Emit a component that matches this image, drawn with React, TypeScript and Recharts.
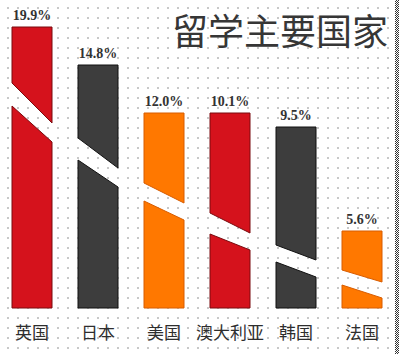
import React from 'react';
import { BarChart, Bar, XAxis, YAxis, LabelList } from 'recharts';

const countries = ['英国', '日本', '美国', '澳大利亚', '韩国', '法国'];
const shares = [19.9, 14.8, 12.0, 10.1, 9.5, 5.6];
// bar lengths as drawn in the infographic (chart units)
const barLengths = [281, 243, 195, 195, 181, 77];
// white diagonal band crossing each bar (chart units, at bar's left / right edge)
const gapTopLeft = [225, 170, 125, 95, 63, 38];
const gapTopRight = [185, 140, 105, 75, 48, 26];
const gapBottomLeft = [202, 148, 107, 74, 46, 23];
const gapBottomRight = [166, 121, 88, 58, 31, 10];
const titleText = '留学主要国家';

const data = countries.map((c, i) => ({
  country: c,
  share: shares[i],
  len: barLengths[i],
  gTL: gapTopLeft[i],
  gTR: gapTopRight[i],
  gBL: gapBottomLeft[i],
  gBR: gapBottomRight[i],
}));

const FILLS = ['#d5121c', '#3d3d3d', '#ff7800'];
const STROKES = ['#7a0a0e', '#111111', '#d85c00'];

const SplitBar = (props: any) => {
  const { x, y, width, height, payload } = props;
  if (!payload || !height) return null;
  const idx = countries.indexOf(payload.country);
  const fill = FILLS[idx % 3];
  const stroke = STROKES[idx % 3];
  const bottom = y + height;
  const k = height / payload.len;
  const Y = (v: number) => bottom - v * k;
  const r = x + width;
  return (
    <g>
      <polygon
        points={`${x},${y} ${r},${y} ${r},${Y(payload.gTR)} ${x},${Y(payload.gTL)}`}
        fill={fill}
        stroke={stroke}
        strokeWidth={1}
      />
      <polygon
        points={`${x},${Y(payload.gBL)} ${r},${Y(payload.gBR)} ${r},${bottom} ${x},${bottom}`}
        fill={fill}
        stroke={stroke}
        strokeWidth={1}
      />
    </g>
  );
};

const Tick = (props: any) => {
  const { x, y, payload } = props;
  return (
    <text
      x={x}
      y={y}
      dy={23}
      textAnchor="middle"
      fontFamily="'Noto Sans CJK SC', sans-serif"
      fontSize={17}
      fill="#2e2e2e"
    >
      {payload.value}
    </text>
  );
};

export default function App() {
  return (
    <div
      style={{
        position: 'absolute',
        left: 0,
        top: 0,
        width: 400,
        height: 354,
        backgroundColor: '#ffffff',
        backgroundImage: 'radial-gradient(circle, #c8c8c8 0.9px, rgba(255,255,255,0) 1.3px)',
        backgroundSize: '10px 10px',
        backgroundPosition: '3px 3px',
        overflow: 'hidden',
      }}
    >
      <div
        style={{
          position: 'absolute',
          left: 172,
          top: 11,
          fontFamily: "'Noto Sans CJK SC', sans-serif",
          fontSize: 36,
          lineHeight: '36px',
          color: '#363636',
          whiteSpace: 'nowrap',
        }}
      >
        {titleText}
      </div>
      <div
        style={{
          position: 'absolute',
          left: 395,
          top: 0,
          width: 4,
          height: 354,
          backgroundImage: 'repeating-conic-gradient(#333 0% 25%, #fff 0% 50%)',
          backgroundSize: '2px 2px',
        }}
      />
      <BarChart
        width={400}
        height={354}
        data={data}
        margin={{ top: 8, right: 5, left: -1, bottom: 0 }}
        barCategoryGap={13}
        style={{ position: 'absolute', left: 0, top: 0 }}
      >
        <YAxis hide domain={[0, 300]} />
        <XAxis
          dataKey="country"
          axisLine={false}
          tickLine={false}
          height={46}
          interval={0}
          tick={<Tick />}
        />
        <Bar dataKey="len" barSize={40} shape={<SplitBar />} isAnimationActive={false}>
          <LabelList
            dataKey="share"
            position="top"
            offset={7}
            formatter={(v: any) => Number(v).toFixed(1) + '%'}
            fill="#333"
            fontSize={14}
            fontWeight="bold"
            fontFamily="'Liberation Serif', serif"
          />
        </Bar>
      </BarChart>
    </div>
  );
}
